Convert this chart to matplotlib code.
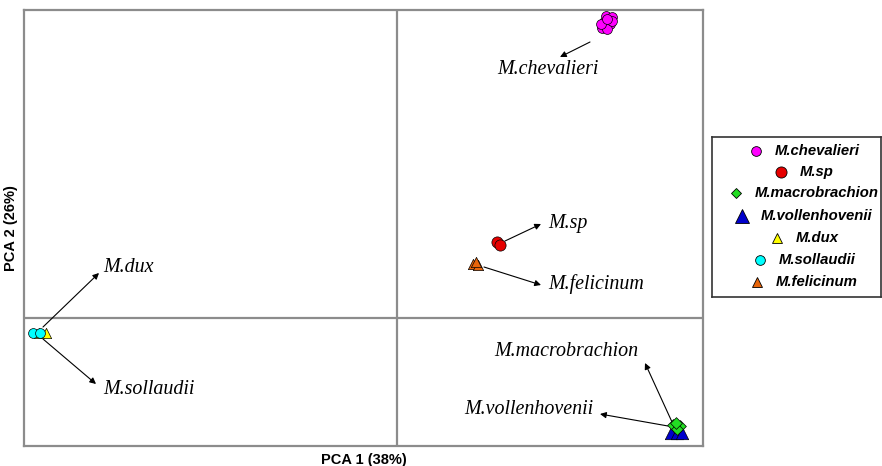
import matplotlib
matplotlib.use("Agg")
import matplotlib.pyplot as plt

# ---- data ----
species = ["M.chevalieri", "M.sp", "M.macrobrachion", "M.vollenhovenii",
           "M.dux", "M.sollaudii", "M.felicinum"]
colors = ["#FF00FF", "#E60000", "#22DD22", "#0000CC", "#FFFF00", "#00FFFF", "#E8650A"]
markers = ["o", "o", "D", "^", "^", "o", "^"]

chev_x = [2.05, 2.09, 2.15, 2.07, 2.13, 2.10, 2.15, 2.04, 2.10]
chev_y = [2.90, 3.02, 3.01, 2.96, 2.94, 2.89, 2.97, 2.94, 2.99]
sp_x = [1.00, 1.03]
sp_y = [0.76, 0.73]
macro_x = [2.76, 2.83, 2.80, 2.79]
macro_y = [-1.07, -1.08, -1.11, -1.05]
voll_x = [2.74, 2.80, 2.85]
voll_y = [-1.15, -1.15, -1.15]
dux_x = [-3.58, -3.51]
dux_y = [-0.15, -0.15]
soll_x = [-3.64, -3.57]
soll_y = [-0.15, -0.15]
feli_x = [0.76, 0.81, 0.79]
feli_y = [0.54, 0.53, 0.56]

xs = [chev_x, sp_x, macro_x, voll_x, dux_x, soll_x, feli_x]
ys = [chev_y, sp_y, macro_y, voll_y, dux_y, soll_y, feli_y]

# arrows: start, end, label position, alignment
arrow_start = [(1.93, 2.76), (1.08, 0.77), (2.75, -1.04), (2.71, -1.08),
               (-3.54, -0.09), (-3.54, -0.21), (0.87, 0.51)]
arrow_end = [(1.63, 2.61), (1.44, 0.94), (2.48, -0.45), (2.03, -0.96),
             (-2.98, 0.45), (-3.01, -0.66), (1.44, 0.33)]
label_pos = [(1.51, 2.48), (1.51, 0.95), (1.69, -0.33), (1.96, -0.92),
             (-2.94, 0.50), (-2.94, -0.72), (1.51, 0.34)]
label_ha = ["center", "left", "center", "right", "left", "left", "left"]

plot_size = [50, 65, 36, 80, 55, 50, 55]
legend_size = [7, 8, 5, 10.5, 7, 7, 7]

xlabel = "PCA 1 (38%)"
ylabel = "PCA 2 (26%)"

# ---- figure ----
W, H = 882, 466
fig = plt.figure(figsize=(W / 100, H / 100), dpi=100)
ax = fig.add_axes([24 / W, 1 - 446 / H, (703 - 24) / W, (446 - 10) / H])
ax.set_xlim(-3.73, 3.06)
ax.set_ylim(-1.28, 3.08)
ax.set_xticks([])
ax.set_yticks([])
for s in ax.spines.values():
    s.set_color("#8c8c8c")
    s.set_linewidth(1.6)
ax.axvline(0, color="#8c8c8c", lw=1.6, zorder=0)
ax.axhline(0, color="#8c8c8c", lw=1.6, zorder=0)

order = [4, 5, 6, 1, 3, 2, 0]
for i in order:
    ax.scatter(xs[i], ys[i], s=plot_size[i], c=colors[i], marker=markers[i],
               edgecolors="black", linewidths=0.5, zorder=3)

for i in range(len(species)):
    ax.annotate("", xy=arrow_end[i], xytext=arrow_start[i],
                arrowprops=dict(arrowstyle="-|>", color="black", lw=0.8,
                                mutation_scale=9, shrinkA=0, shrinkB=0), zorder=2)
    ax.text(label_pos[i][0], label_pos[i][1], species[i], ha=label_ha[i], va="center",
            fontsize=14.4, style="italic", family="Liberation Serif")

ax.set_xlabel(xlabel, fontsize=10.5, fontweight="bold", family="Liberation Sans", labelpad=5)
ax.set_ylabel(ylabel, fontsize=10.5, fontweight="bold", family="Liberation Sans", labelpad=4)

# ---- legend (centered rows, R-style) ----
lax = fig.add_axes([712 / W, 1 - 297 / H, (881 - 712) / W, (297 - 137) / H])
lax.set_xlim(712, 881)
lax.set_ylim(297, 137)
lax.set_xticks([])
lax.set_yticks([])
for s in lax.spines.values():
    s.set_color("#333333")
    s.set_linewidth(1.2)

row_y = [151, 172, 193, 216, 238, 260, 282]
renderer = fig.canvas.get_renderer()
for i in range(len(species)):
    t = lax.text(817, row_y[i], species[i], ha="center", va="center",
                 fontsize=10.7, fontweight="bold", style="italic", family="Liberation Sans")
    bb = t.get_window_extent(renderer=renderer)
    left_data = lax.transData.inverted().transform((bb.x0, bb.y0))[0]
    lax.plot([left_data - 19], [row_y[i]], marker=markers[i], color=colors[i],
             markersize=legend_size[i], markeredgecolor="black", markeredgewidth=0.6,
             linestyle="none")

fig.savefig("out.png", dpi=100)
